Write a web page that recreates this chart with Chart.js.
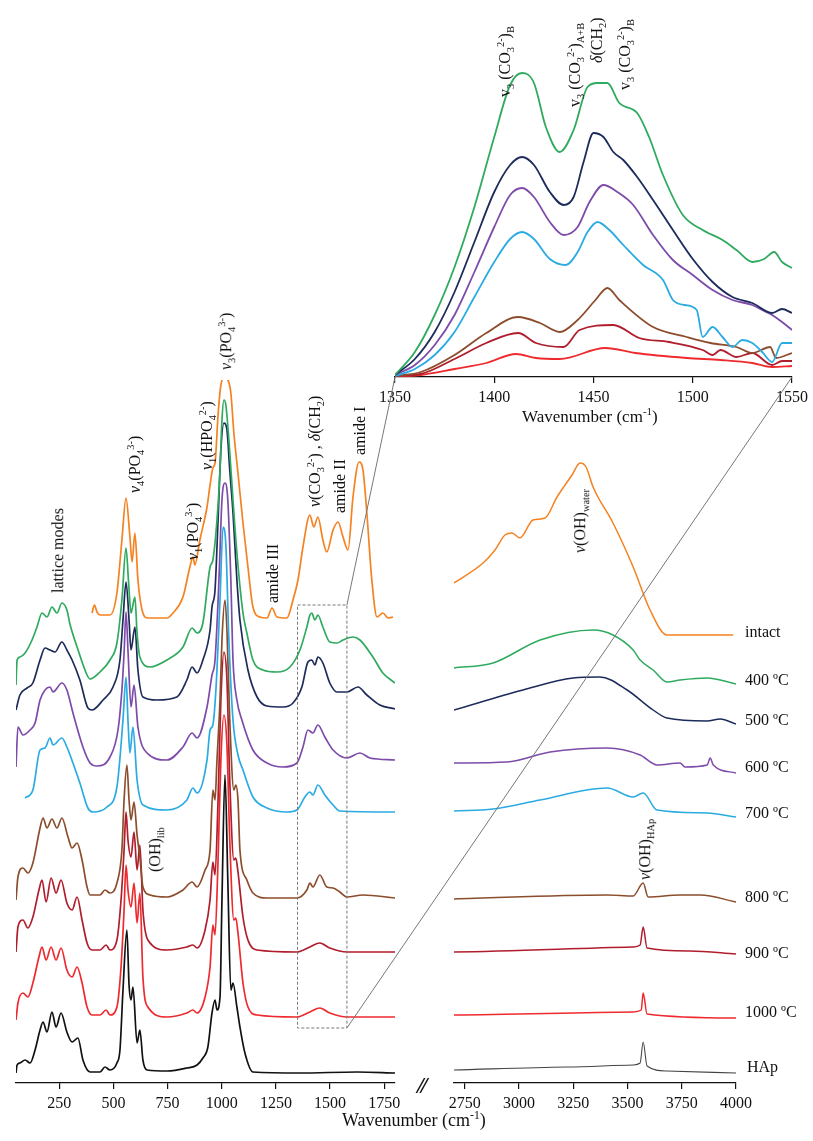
<!DOCTYPE html>
<html><head><meta charset="utf-8">
<script src="https://cdn.jsdelivr.net/npm/chart.js@4.4.1/dist/chart.umd.min.js"></script>
<style>
html,body{margin:0;padding:0;background:#fff;}
#wrap{position:relative;width:813px;height:1141px;overflow:hidden;font-family:"Liberation Serif","DejaVu Serif",serif;color:#111;}
canvas{position:absolute;}
.v{position:absolute;white-space:nowrap;transform-origin:0 0;transform:rotate(-90deg) translateY(-50%);font-size:16px;line-height:1.1;}
.h{position:absolute;white-space:nowrap;font-size:16px;line-height:1;}
sub,sup{font-size:0.65em;line-height:0;}
</style></head>
<body><div id="wrap">
<canvas id="inset" width="443" height="410" style="left:370px;top:0px"></canvas>
<canvas id="main" width="420" height="760" style="left:0px;top:380px"></canvas>
<canvas id="oh" width="383" height="720" style="left:430px;top:420px"></canvas>
<canvas id="overlay" width="813" height="1141" style="left:0;top:0;pointer-events:none"></canvas>

<div class="v" style="left:58px;top:593px">lattice modes</div>
<div class="v" style="left:135px;top:493px"><i>ν</i><sub>4</sub>(PO<sub>4</sub><sup>3-</sup>)</div>
<div class="v" style="left:193px;top:560px"><i>ν</i><sub>1</sub>(PO<sub>4</sub><sup>3-</sup>)</div>
<div class="v" style="left:207px;top:470px"><i>ν</i><sub>1</sub>(HPO<sub>4</sub><sup>2-</sup>)</div>
<div class="v" style="left:226px;top:370px"><i>ν</i><sub>3</sub>(PO<sub>4</sub><sup>3-</sup>)</div>
<div class="v" style="left:273px;top:603px">amide III</div>
<div class="v" style="left:315px;top:507px"><i>ν</i>(CO<sub>3</sub><sup>2-</sup>) , <i>δ</i>(CH<sub>2</sub>)</div>
<div class="v" style="left:340px;top:513px">amide II</div>
<div class="v" style="left:360px;top:455px">amide I</div>
<div class="v" style="left:155px;top:872px">(OH)<sub>lib</sub></div>
<div class="v" style="left:580px;top:553px"><i>ν</i>(OH)<sub>water</sub></div>
<div class="v" style="left:645px;top:880px"><i>ν</i>(OH)<sub>HAp</sub></div>

<div class="v" style="left:505px;top:97px">v<sub>3</sub> (CO<sub>3</sub><sup>2-</sup>)<sub>B</sub></div>
<div class="v" style="left:575px;top:107px">v<sub>3</sub> (CO<sub>3</sub><sup>2-</sup>)<sub>A+B</sub></div>
<div class="v" style="left:597px;top:63px"><i>δ</i>(CH<sub>2</sub>)</div>
<div class="v" style="left:625px;top:90px">v<sub>3</sub> (CO<sub>3</sub><sup>2-</sup>)<sub>B</sub></div>

<div class="h" style="left:745px;top:624px">intact</div>
<div class="h" style="left:745px;top:672px">400 ºC</div>
<div class="h" style="left:745px;top:712px">500 ºC</div>
<div class="h" style="left:745px;top:759px">600 ºC</div>
<div class="h" style="left:745px;top:805px">700 ºC</div>
<div class="h" style="left:745px;top:889px">800 ºC</div>
<div class="h" style="left:745px;top:945px">900 ºC</div>
<div class="h" style="left:745px;top:1004px">1000 ºC</div>
<div class="h" style="left:747px;top:1059px">HAp</div>

<div class="h" style="left:417px;top:1073px;font-size:24px;font-style:italic;font-weight:bold;letter-spacing:-3px">//</div>
<div class="h" style="left:342px;top:1111px;font-size:18px">Wavenumber (cm<sup>-1</sup>)</div>
<div class="h" style="left:522px;top:408px;font-size:17px">Wavenumber (cm<sup>-1</sup>)</div>
</div>
<script>
// ---------- tick values ----------
const mainTicks = [250, 500, 750, 1000, 1250, 1500, 1750];
const ohTicks = [2750, 3000, 3250, 3500, 3750, 4000];
const insetTicks = [1350, 1400, 1450, 1500, 1550];

// ---------- series (labels / colours) ----------
const seriesNames = ['intact', '400 ºC', '500 ºC', '600 ºC', '700 ºC', '800 ºC', '900 ºC', '1000 ºC', 'HAp'];
const seriesColors = ['#f58220', '#2faa5e', '#1c2b5a', '#7d4ba9', '#2aabe2', '#8c4d2c', '#b01d2c', '#ee2a2e', '#111111'];

// ---------- low-wavenumber region [cm-1, stacked intensity a.u.] ----------
const lowIntact = [[401,470],[412,478],[424,471],[438,468],[484,468],[516,490],[539,543],[558,585],[576,546],[586,521],[599,550],[613,503],[632,473],[655,465],[747,465],[775,470],[821,486],[853,516],[867,526],[876,518],[899,543],[932,576],[946,598],[959,615],[969,620],[983,668],[996,698],[1010,705],[1028,703],[1042,690],[1056,650],[1075,610],[1098,560],[1121,516],[1144,476],[1176,466],[1209,465],[1232,475],[1255,466],[1301,465],[1329,483],[1352,503],[1375,536],[1407,568],[1425,556],[1444,566],[1467,543],[1485,531],[1514,553],[1537,561],[1560,546],[1583,533],[1606,586],[1634,621],[1652,613],[1670,570],[1693,503],[1717,466],[1744,470],[1768,465],[1791,466]];
const low400 = [[50,398],[55,423],[68,426],[92,430],[124,443],[147,456],[170,470],[193,466],[216,476],[239,470],[262,480],[285,473],[299,459],[332,436],[378,408],[392,404],[438,411],[484,423],[516,440],[539,483],[558,535],[570,500],[581,470],[599,486],[609,450],[622,426],[669,416],[747,423],[821,436],[863,455],[886,450],[913,460],[946,516],[959,523],[978,563],[992,613],[1001,663],[1010,683],[1019,678],[1033,643],[1052,583],[1070,530],[1098,470],[1116,450],[1144,423],[1190,413],[1255,411],[1315,416],[1361,433],[1393,456],[1407,468],[1416,470],[1430,463],[1444,468],[1467,456],[1499,441],[1532,440],[1560,443],[1606,446],[1638,443],[1698,426],[1744,410],[1800,400]];
const low500 = [[50,373],[68,388],[101,395],[128,400],[161,423],[184,435],[207,433],[230,431],[262,441],[285,433],[309,423],[345,403],[382,375],[401,373],[452,383],[498,396],[530,423],[544,463],[558,501],[572,463],[581,433],[599,456],[613,413],[636,386],[701,383],[793,386],[839,403],[863,416],[886,410],[913,423],[946,453],[955,476],[969,493],[983,563],[996,633],[1010,660],[1024,653],[1037,613],[1052,570],[1070,503],[1084,463],[1121,413],[1163,386],[1209,377],[1283,376],[1329,380],[1370,396],[1398,421],[1416,423],[1430,418],[1444,426],[1467,420],[1499,400],[1532,391],[1578,391],[1629,396],[1670,388],[1730,378],[1800,374]];
const low600 = [[50,316],[59,356],[82,348],[115,353],[138,360],[161,383],[184,393],[207,396],[221,391],[262,400],[285,393],[313,370],[359,336],[392,320],[424,317],[484,326],[521,353],[539,393],[549,430],[558,471],[567,433],[581,376],[595,398],[613,356],[655,330],[747,323],[821,336],[863,350],[886,345],[932,376],[955,408],[969,423],[987,503],[1001,583],[1015,600],[1028,583],[1042,503],[1052,423],[1070,383],[1093,363],[1144,333],[1209,320],[1283,316],[1347,320],[1375,336],[1398,353],[1421,350],[1444,358],[1476,346],[1514,333],[1578,325],[1638,330],[1684,325],[1800,323]];
const low700 = [[92,285],[128,293],[161,333],[184,335],[207,345],[221,338],[262,345],[285,336],[313,320],[345,300],[382,275],[406,271],[470,276],[516,296],[544,363],[558,406],[567,363],[576,330],[590,356],[609,303],[636,278],[747,273],[839,283],[867,295],[886,290],[932,323],[946,353],[959,358],[973,393],[992,483],[1006,556],[1019,538],[1033,443],[1052,363],[1075,328],[1098,313],[1144,286],[1209,275],[1301,271],[1347,273],[1384,286],[1407,291],[1421,288],[1444,298],[1476,288],[1514,278],[1545,272],[1800,271]];
const low800 = [[50,183],[59,206],[82,215],[105,210],[128,220],[161,255],[175,265],[193,255],[216,264],[239,255],[262,265],[290,246],[309,235],[332,240],[355,223],[378,196],[392,188],[438,188],[461,193],[484,190],[516,200],[539,233],[549,283],[562,318],[572,283],[581,263],[595,281],[609,248],[622,226],[636,196],[669,188],[747,186],[821,193],[863,201],[886,196],[923,213],[946,233],[959,293],[969,283],[978,323],[992,383],[1001,443],[1015,483],[1024,453],[1037,363],[1056,293],[1065,298],[1075,283],[1084,233],[1116,203],[1144,190],[1209,185],[1347,185],[1393,193],[1407,200],[1421,196],[1453,208],[1485,196],[1514,195],[1545,191],[1578,186],[1652,188],[1800,185]];
const low900 = [[50,131],[59,156],[82,163],[105,155],[128,166],[156,193],[170,203],[189,181],[212,205],[235,190],[258,203],[285,180],[309,173],[332,186],[355,163],[378,140],[401,133],[438,133],[466,138],[484,133],[516,143],[535,183],[549,233],[558,271],[567,243],[581,226],[595,251],[609,213],[622,238],[636,173],[659,143],[747,133],[839,136],[867,138],[886,135],[923,153],[946,183],[959,221],[969,208],[983,283],[996,383],[1010,431],[1024,403],[1037,303],[1056,223],[1065,225],[1075,211],[1098,166],[1121,143],[1163,133],[1347,131],[1407,136],[1453,140],[1499,135],[1578,131],[1800,131]];
const low1000 = [[50,63],[59,80],[82,90],[105,86],[128,100],[156,126],[170,136],[189,123],[212,136],[235,123],[258,135],[285,113],[309,106],[332,116],[355,100],[378,76],[401,68],[438,68],[466,73],[484,68],[516,76],[535,116],[549,173],[558,218],[567,193],[581,176],[595,200],[609,160],[622,190],[636,106],[659,76],[747,66],[839,70],[867,73],[886,70],[923,86],[946,116],[959,158],[969,148],[983,223],[996,323],[1010,368],[1024,338],[1037,243],[1056,163],[1065,165],[1075,150],[1098,100],[1121,76],[1163,68],[1347,66],[1407,71],[1453,75],[1499,70],[1578,66],[1800,66]];
const lowHAp = [[50,10],[55,18],[68,20],[92,23],[115,20],[138,33],[161,53],[175,61],[193,51],[216,71],[235,56],[258,70],[285,51],[309,41],[336,45],[359,23],[392,11],[438,11],[461,16],[484,13],[516,20],[530,33],[544,93],[562,153],[572,98],[581,83],[590,96],[609,40],[622,53],[636,23],[655,13],[747,12],[839,15],[886,18],[913,25],[936,36],[955,70],[969,83],[978,73],[992,86],[1001,183],[1015,308],[1028,203],[1042,93],[1052,100],[1070,76],[1084,56],[1107,30],[1144,11],[1361,10],[1625,11],[1800,10]];

// ---------- O-H stretching region ----------
const highIntact = [[2700,500],[2834,520],[2889,533],[2935,548],[2967,550],[3004,545],[3064,563],[3120,565],[3175,586],[3244,608],[3281,620],[3309,616],[3341,596],[3433,560],[3526,516],[3604,473],[3682,448],[3987,448]];
const high400 = [[2700,415],[2880,420],[3097,443],[3341,453],[3433,448],[3526,433],[3558,423],[3618,413],[3682,401],[3742,403],[3867,405],[4000,399]];
const high500 = [[2700,373],[3018,393],[3249,405],[3373,406],[3498,393],[3618,373],[3682,365],[3867,362],[3927,364],[4000,359]];
const high600 = [[2700,320],[2944,321],[3143,331],[3406,335],[3558,328],[3636,318],[3742,320],[3765,316],[3867,318],[3881,325],[3895,318],[4000,310]];
const high700 = [[2700,272],[2880,274],[3097,283],[3406,295],[3526,286],[3572,290],[3636,273],[3867,270],[4000,266]];
const high800 = [[2700,184],[3406,188],[3526,187],[3572,200],[3595,186],[3742,188],[3835,188],[4000,181]];
const high900 = [[2700,131],[3526,136],[3558,138],[3572,156],[3590,135],[3788,132],[4000,129]];
const high1000 = [[2700,68],[3526,71],[3563,73],[3572,90],[3590,69],[4000,65]];
const highHAp = [[2700,13],[3221,16],[3526,18],[3558,20],[3572,41],[3590,17],[3682,12],[4000,10]];

// ---------- inset: carbonate region ----------
const inset400 = [[1350,2],[1360,25],[1370,62],[1380,110],[1390,170],[1400,240],[1408,292],[1414,304],[1420,294],[1426,250],[1433,225],[1440,247],[1447,290],[1452,294],[1457,294],[1463,274],[1472,264],[1478,240],[1485,202],[1495,162],[1505,147],[1515,137],[1522,127],[1530,115],[1536,118],[1541,125],[1545,115],[1550,109]];
const inset500 = [[1350,2],[1360,18],[1370,45],[1380,85],[1390,135],[1400,185],[1408,212],[1414,220],[1420,212],[1428,185],[1435,172],[1440,180],[1445,215],[1450,244],[1455,240],[1460,225],[1465,217],[1472,200],[1480,177],[1490,147],[1500,118],[1510,95],[1520,80],[1530,74],[1540,64],[1545,68],[1550,64]];
const inset600 = [[1350,2],[1360,12],[1370,32],[1380,62],[1390,105],[1400,150],[1408,182],[1414,189],[1420,180],[1428,155],[1435,142],[1442,150],[1448,175],[1455,192],[1462,185],[1470,172],[1480,142],[1490,117],[1500,102],[1510,87],[1520,77],[1530,72],[1535,67],[1540,62],[1545,55],[1550,47]];
const inset700 = [[1350,1],[1360,8],[1370,22],[1380,45],[1390,80],[1400,115],[1408,138],[1414,145],[1420,138],[1428,118],[1436,112],[1442,125],[1447,145],[1452,155],[1458,147],[1465,132],[1475,112],[1485,97],[1490,77],[1496,72],[1502,67],[1505,40],[1510,50],[1515,40],[1520,30],[1525,37],[1530,34],[1535,25],[1540,15],[1545,34],[1550,34]];
const inset800 = [[1350,1],[1363,5],[1380,22],[1396,44],[1412,60],[1423,54],[1433,45],[1442,57],[1451,77],[1457,89],[1463,77],[1480,50],[1497,40],[1509,34],[1522,30],[1530,24],[1539,30],[1542,19],[1550,24]];
const inset900 = [[1350,1],[1363,3],[1380,18],[1396,34],[1412,44],[1421,34],[1435,30],[1443,47],[1460,52],[1473,39],[1488,35],[1505,27],[1510,22],[1514,27],[1522,20],[1530,24],[1540,12],[1545,16],[1550,16]];
const inset1000 = [[1350,0],[1363,2],[1380,8],[1396,14],[1411,23],[1421,19],[1433,18],[1456,29],[1471,24],[1497,19],[1514,17],[1530,14],[1540,10],[1550,11]];

// zoom box (in main-panel data units)
const boxX = [1350, 1578];
const boxY = [55, 478];

const lowSets = [lowIntact, low400, low500, low600, low700, low800, low900, low1000, lowHAp];
const highSets = [highIntact, high400, high500, high600, high700, high800, high900, high1000, highHAp];
const insetSets = [inset400, inset500, inset600, inset700, inset800, inset900, inset1000];

const FONT = '"Liberation Serif", "DejaVu Serif", serif';
const toXY = arr => arr.map(p => ({x: p[0], y: p[1]}));

function xAxis(min, max, ticks, h) {
  return {
    type: 'linear', min, max, position: 'bottom',
    afterBuildTicks: ax => { ax.ticks = ticks.map(v => ({value: v})); },
    afterFit: s => { s.height = h; s.paddingLeft = 0; s.paddingRight = 0; },
    grid: {display: true, drawOnChartArea: false, drawTicks: true, tickLength: 6, color: '#111', lineWidth: 1.2},
    border: {display: true, color: '#111', width: 1.3},
    ticks: {color: '#111', font: {family: FONT, size: 16}, padding: 5, maxRotation: 0, autoSkip: false,
            callback: v => String(v)}
  };
}
function baseOpts(xa, ymax, pad) {
  return {
    responsive: false, animation: false, devicePixelRatio: 1, events: [],
    layout: {padding: pad},
    plugins: {legend: {display: false}, tooltip: {enabled: false}},
    elements: {point: {radius: 0}, line: {cubicInterpolationMode: 'monotone', borderJoinStyle: 'round'}},
    scales: {x: xa, y: {display: false, min: 0, max: ymax}}
  };
}

const zoomBox = {
  id: 'zoomBox',
  afterDatasetsDraw(chart) {
    const {ctx, scales: {x, y}} = chart;
    ctx.save();
    ctx.strokeStyle = '#777'; ctx.lineWidth = 1; ctx.setLineDash([3, 2]);
    const x0 = x.getPixelForValue(boxX[0]), x1 = x.getPixelForValue(boxX[1]);
    const y0 = y.getPixelForValue(boxY[1]), y1 = y.getPixelForValue(boxY[0]);
    ctx.strokeRect(x0, y0, x1 - x0, y1 - y0);
    ctx.restore();
  }
};

const mainChart = new Chart(document.getElementById('main'), {
  type: 'line',
  data: {datasets: lowSets.map((d, i) => ({label: seriesNames[i], data: toXY(d), borderColor: seriesColors[i], borderWidth: 1.7, fill: false}))},
  options: baseOpts(xAxis(50, 1800, mainTicks, 57), 703, {left: 16, right: 25, top: 0, bottom: 0}),
  plugins: [zoomBox]
});

const ohColors = seriesColors.slice(0, 8).concat(['#444444']);
const ohChart = new Chart(document.getElementById('oh'), {
  type: 'line',
  data: {datasets: highSets.map((d, i) => ({label: seriesNames[i], data: toXY(d), borderColor: ohColors[i], borderWidth: i === 8 ? 1.1 : 1.5, fill: false}))},
  options: baseOpts(xAxis(2700, 4000, ohTicks, 57), 663, {left: 24, right: 77, top: 0, bottom: 0})
});

const insetChart = new Chart(document.getElementById('inset'), {
  type: 'line',
  data: {datasets: insetSets.map((d, i) => ({label: seriesNames[i + 1], data: toXY(d), borderColor: seriesColors[i + 1], borderWidth: 1.8, fill: false}))},
  options: baseOpts(xAxis(1350, 1550, insetTicks, 33), 377, {left: 25, right: 21, top: 0, bottom: 0})
});

// connector lines between the zoom box and the inset axis
(function () {
  const ov = document.getElementById('overlay').getContext('2d');
  const m = mainChart.scales, n = insetChart.scales;
  const mOff = {x: 0, y: 380}, iOff = {x: 370, y: 0};
  const bx = m.x.getPixelForValue(boxX[1]) + mOff.x;
  const byTop = m.y.getPixelForValue(boxY[1]) + mOff.y;
  const byBot = m.y.getPixelForValue(boxY[0]) + mOff.y;
  const ix0 = n.x.getPixelForValue(insetTicks[0]) + iOff.x;
  const ix1 = n.x.getPixelForValue(insetTicks[insetTicks.length - 1]) + iOff.x;
  const iy = n.y.getPixelForValue(0) + iOff.y;
  ov.strokeStyle = '#777'; ov.lineWidth = 1;
  ov.beginPath(); ov.moveTo(bx, byTop); ov.lineTo(ix0, iy); ov.stroke();
  ov.beginPath(); ov.moveTo(bx, byBot); ov.lineTo(ix1, iy); ov.stroke();
})();
</script>
</body></html>
